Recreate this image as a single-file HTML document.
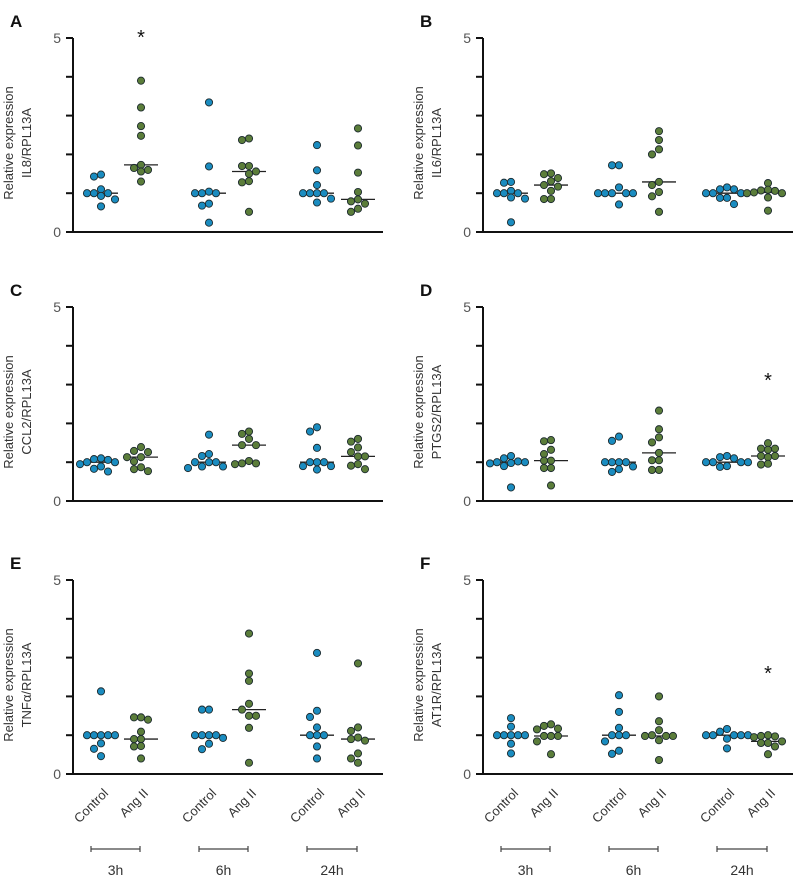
<!DOCTYPE html>
<html><head><meta charset="utf-8"><style>
body{margin:0;background:#fff}
svg{display:block;font-family:"Liberation Sans",sans-serif}
</style></head><body>
<svg id="chart" width="798" height="877"></svg>
<script>
const NS='http://www.w3.org/2000/svg';
const groups=['Control','Ang II','Control','Ang II','Control','Ang II'];
const times=['3h','6h','24h'];
const panelLetters=['A','B','C','D','E','F'];
const genes=['IL8','IL6','CCL2','PTGS2','TNFα','AT1R'];
const yTicks=[0,1,2,3,4,5];
const yTickLabels=['0','','','','','5'];
const starGroup=[1,-1,-1,5,-1,5];
const dataA=[[1.48,1.43,1.10,1.0,1.0,1.0,0.93,0.84,0.66],[3.9,3.21,2.73,2.48,1.73,1.65,1.6,1.56,1.3],[3.34,1.69,1.04,1.0,1.0,1.0,0.73,0.68,0.24],[2.41,2.37,1.7,1.7,1.56,1.5,1.31,1.28,0.52],[2.24,1.59,1.21,1.0,1.0,1.0,1.0,0.86,0.76],[2.67,2.23,1.53,1.03,0.84,0.79,0.73,0.6,0.52]];
const dataB=[[1.29,1.27,1.06,1.0,1.0,1.0,0.89,0.86,0.25],[1.51,1.49,1.39,1.31,1.21,1.17,1.06,0.85,0.85],[1.72,1.72,1.15,1.0,1.0,1.0,1.0,1.0,0.71],[2.6,2.37,2.13,2.0,1.29,1.21,1.03,0.92,0.52],[1.15,1.1,1.1,1.0,1.0,1.0,0.88,0.88,0.72],[1.26,1.09,1.07,1.06,1.02,1.0,1.0,0.89,0.55]];
const dataC=[[1.1,1.08,1.06,1.0,1.0,0.95,0.89,0.83,0.76],[1.39,1.29,1.26,1.13,1.13,1.02,0.87,0.82,0.77],[1.71,1.21,1.16,1.0,1.0,1.0,0.89,0.89,0.85],[1.79,1.73,1.6,1.44,1.44,1.03,0.97,0.97,0.95],[1.9,1.79,1.37,1.0,1.0,1.0,0.9,0.9,0.81],[1.6,1.53,1.38,1.26,1.15,1.15,0.95,0.91,0.82]];
const dataD=[[1.16,1.1,1.02,1.0,1.0,0.98,0.97,0.9,0.35],[1.57,1.54,1.32,1.21,1.04,1.04,0.85,0.85,0.4],[1.66,1.55,1.0,1.0,1.0,1.0,0.89,0.82,0.75],[2.33,1.85,1.64,1.51,1.24,1.05,1.05,0.8,0.8],[1.16,1.13,1.1,1.0,1.0,1.0,0.9,0.88,1.0],[1.49,1.35,1.35,1.32,1.16,1.16,1.13,0.96,0.94]];
const dataE=[[2.13,1.0,1.0,1.0,1.0,1.0,0.79,0.65,0.46],[1.46,1.46,1.40,1.09,0.9,0.9,0.72,0.71,0.4],[1.66,1.66,1.0,1.0,1.0,1.0,0.93,0.78,0.64],[3.62,2.59,2.4,1.81,1.66,1.5,1.5,1.19,0.29],[3.12,1.63,1.47,1.2,1.0,1.0,1.0,0.71,0.4],[2.85,1.2,1.11,0.94,0.9,0.86,0.53,0.4,0.29]];
const dataF=[[1.44,1.22,1.0,1.0,1.0,1.0,1.0,0.78,0.53],[1.28,1.24,1.17,1.15,0.98,0.98,0.98,0.84,0.51],[2.03,1.6,1.19,1.0,1.0,1.0,0.84,0.6,0.52],[2.0,1.36,1.13,1.0,0.98,0.98,0.98,0.87,0.36],[1.16,1.09,1.0,1.0,1.0,1.0,1.0,0.91,0.66],[1.0,0.98,0.97,0.95,0.84,0.8,0.8,0.71,0.51]];
const panelData=[dataA,dataB,dataC,dataD,dataE,dataF];

const svg=document.getElementById('chart');
function mk(tag,attrs,parent,txt){const e=document.createElementNS(NS,tag);for(const k in attrs)e.setAttribute(k,attrs[k]);if(txt!==undefined)e.textContent=txt;(parent||svg).appendChild(e);return e;}
const groupOffsets=[28,68,136,176,244,285];
const unit=38.8;
const panelTops=[38,38,307,307,580,580];
const axisXs=[73,483];
function median(a){const s=[...a].sort((x,y)=>x-y);const n=s.length;return n%2?s[(n-1)/2]:(s[n/2-1]+s[n/2])/2;}

panelData.forEach((data,p)=>{
  const col=p%2, ax=axisXs[col], top=panelTops[p], base=top+5*unit;
  const yS=v=>base-v*unit;
  const xS=g=>ax+groupOffsets[g];
  const g=mk('g',{},svg);
  
  
  const L=mk('text',{x:ax-63,y:top-11,'font-size':17,'font-weight':'bold',fill:'#111'},g,panelLetters[p]);
  
  const cy=top+105;
  const t1=mk('text',{x:0,y:0,'font-size':13,fill:'#333','text-anchor':'middle',transform:`translate(${ax-60},${cy}) rotate(-90)`},g,'Relative expression');
  
  const t2=mk('text',{x:0,y:0,'font-size':13,fill:'#333','text-anchor':'middle',transform:`translate(${ax-42},${cy}) rotate(-90)`},g,genes[p]+'/RPL13A');
  
  const ya=mk('line',{x1:ax,y1:top,x2:ax,y2:base+1,stroke:'#111','stroke-width':2},g);
  
  const xa=mk('line',{x1:ax-7,y1:base,x2:ax+310,y2:base,stroke:'#111','stroke-width':2},g);
  
  yTicks.forEach((v,i)=>{
    const tk=mk('line',{x1:ax-7,y1:yS(v),x2:ax,y2:yS(v),stroke:'#111','stroke-width':2},g);
    
    if(yTickLabels[i]){const tl=mk('text',{x:ax-12,y:yS(v)+5,'font-size':14,fill:'#555','text-anchor':'end'},g,yTickLabels[i]);
      }
  });
  data.forEach((vals,gi)=>{
    const cx=xS(gi), color=gi%2?'#5b7d3a':'#1a8cc0';
    const sorted=[...vals].sort((a,b)=>b-a);
    const placed=[];
    const cand=[0,-7,7,-14,14,-21,21];
    const md=median(vals);
    const ml=mk('line',{x1:cx-17,y1:yS(md),x2:cx+17,y2:yS(md),stroke:'#222','stroke-width':1.3},g);
    
    sorted.forEach(v=>{
      const y=yS(v);let off=0;
      for(const c of cand){if(!placed.some(q=>Math.abs(q.y-y)<6.5&&Math.abs(q.x-c)<6.5)){off=c;break;}}
      placed.push({x:off,y});
      const pt=mk('circle',{cx:cx+off,cy:y,r:3.6,fill:color,stroke:'#1d2b2f','stroke-width':0.9},g);
      
    });
  });
  if(starGroup[p]>=0){
    const gi=starGroup[p];
    const st=mk('text',{x:xS(gi),y:top+(p<2?6:p<4?80:100),'font-size':20,'text-anchor':'middle',fill:'#111'},g,'*');
    
  }
  if(p>=4){
    groups.forEach((name,gi)=>{
      const cx=xS(gi)+8;
      const cl=mk('text',{x:0,y:0,'font-size':13,fill:'#333','text-anchor':'end',transform:`translate(${cx},${base+20}) rotate(-45)`},g,name);
      
    });
    times.forEach((t,ti)=>{
      const x1=xS(ti*2)-10,x2=xS(ti*2+1)-1,yb=base+75;
      const br=mk('path',{d:`M${x1},${yb-3}V${yb+3}M${x1},${yb}H${x2}M${x2},${yb-3}V${yb+3}`,stroke:'#444','stroke-width':1.2,fill:'none'},g);
      
      const tl=mk('text',{x:(x1+x2)/2,y:yb+26,'font-size':14,fill:'#333','text-anchor':'middle'},g,t);
      
    });
  }
});
</script>
</body></html>
